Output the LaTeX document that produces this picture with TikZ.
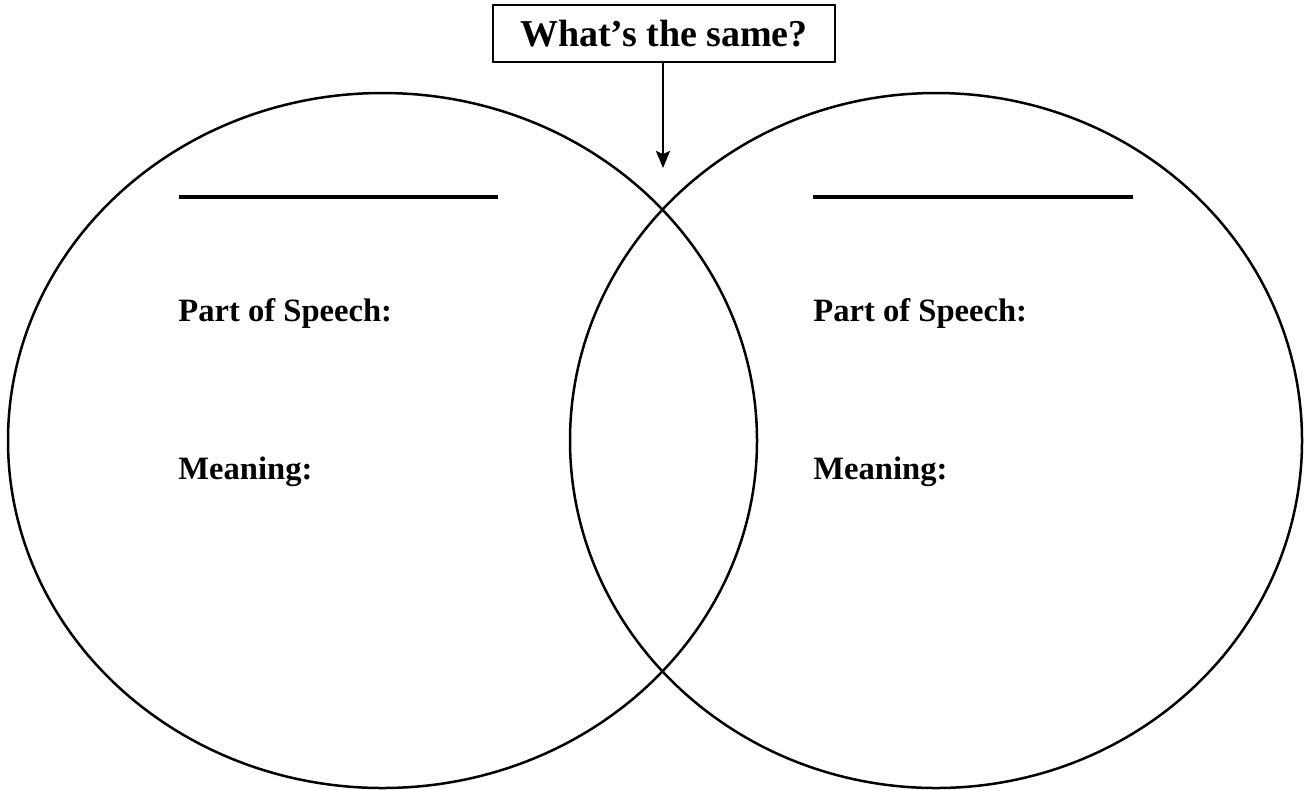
\documentclass[tikz,border=0pt]{standalone}
\usepackage{fontspec}
\setmainfont{Liberation Serif}
\usetikzlibrary{arrows.meta}
\tikzset{
    ring/.style={line width=1.25pt},
    blank/.style={line width=1.6pt},
    field/.style={anchor=base west, inner sep=0pt, font=\fontsize{16.3}{19}\selectfont\bfseries},
    titlebox/.style={draw, line width=1pt, minimum width=171pt, minimum height=28.5pt,
        inner sep=0pt, font=\fontsize{19}{22}\selectfont\bfseries}
}
\begin{document}
\begin{tikzpicture}[x=0.5pt, y=-0.5pt]
    \useasboundingbox (0,0) rectangle (1310,789);
    \draw[ring] (382.5,440.5) ellipse [x radius=374.5, y radius=347.5];
    \draw[ring] (936,440.5) ellipse [x radius=366, y radius=347.5];
    \node[titlebox](same) at (664,33.5) {What’s the same?};
    \coordinate (tip) at (663,168);
    \draw[line width=1pt, -{Stealth[length=8.5pt, width=7pt, inset=1.5pt]}] (same.south -| tip) -- (tip);
    \draw[blank] (179,197)--(498,197);
    \draw[blank] (813,197)--(1133,197);
    \node[field](posl) at (178,321) {Part of Speech:};
    \node[field](meanl) at (178,479) {Meaning:};
    \node[field](posr) at (813,321) {Part of Speech:};
    \node[field](meanr) at (813,479) {Meaning:};
\end{tikzpicture}
\end{document}
